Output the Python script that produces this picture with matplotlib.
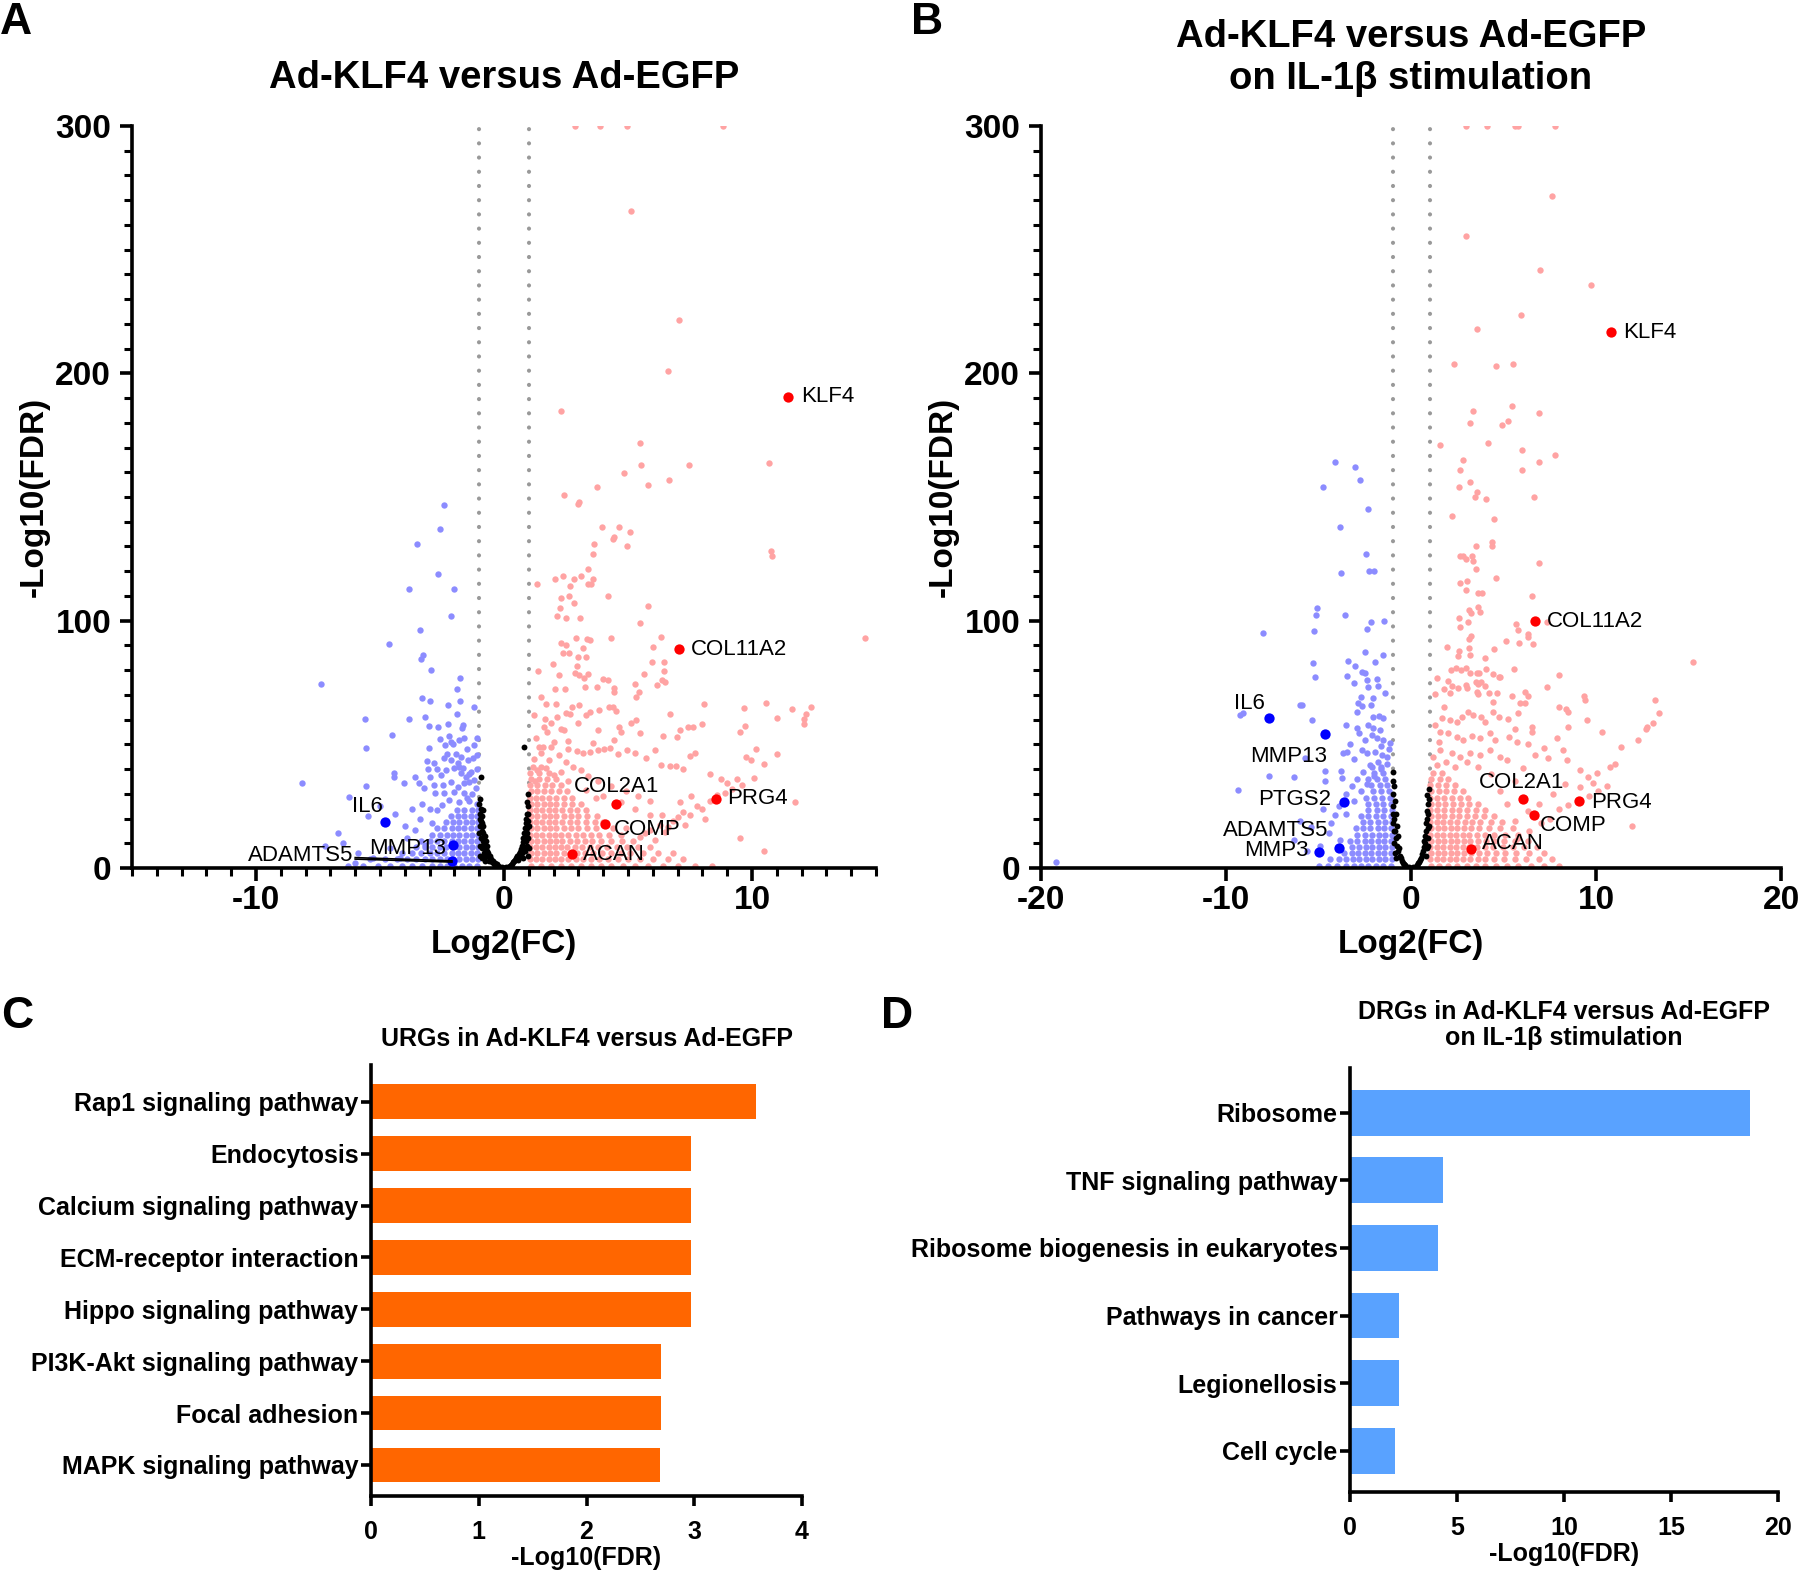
import numpy as np
import matplotlib.pyplot as plt

plt.rcParams['font.family'] = ['Liberation Sans', 'DejaVu Sans']
plt.rcParams['axes.unicode_minus'] = False

# ---------------- Panel A: Ad-KLF4 vs Ad-EGFP ----------------
# up-regulated genes (log2FC, -log10FDR), scattered part
a_up = [(5.13, 265.8), (7.07, 221.7), (6.63, 201), (2.30, 184.9), (5.50, 171.9), (5.54, 163), (7.44, 163),
        (10.67, 163.8), (4.85, 159.8), (5.82, 154.9), (6.67, 157), (3.76, 154), (2.43, 151), (3.03, 148),
        (3.0, 147), (3.96, 138), (4.65, 138), (5.09, 136), (4.45, 134), (4.4, 133), (3.64, 131), (4.97, 130),
        (3.6, 127), (10.75, 128), (10.8, 126), (1.33, 115), (2.06, 117), (2.38, 118), (2.83, 117), (3.1, 118),
        (3.4, 121), (3.4, 115), (3.5, 115), (3.6, 117), (2.67, 114), (2.3, 109), (2.63, 110), (4.2, 110),
        (2.27, 105), (2.83, 107), (2.14, 102), (2.5, 101), (3.07, 101), (5.82, 106), (5.5, 99), (6.35, 93.5),
        (14.55, 93), (2.91, 93), (3.36, 92.6), (3.48, 92.2), (4.32, 93), (2.3, 91), (2.5, 90), (2.38, 87),
        (2.63, 87), (3.19, 89), (6.0, 89.4), (1.98, 82.5), (2.95, 81.7), (3.0, 85.4), (3.3, 85.4), (5.98, 83.3),
        (6.47, 83.3), (1.37, 79.7), (2.22, 78), (2.87, 78.9), (3.03, 78), (3.4, 78.5), (5.66, 78.5), (6.47, 79.7),
        (4.0, 76.5), (4.2, 76), (6.39, 76), (6.5, 75.2), (2.06, 72.4), (2.47, 72.4), (3.23, 77), (3.27, 73.2),
        (3.76, 73.2), (4.45, 72.8), (4.45, 71.2), (5.3, 74.4), (6.18, 74), (5.34, 69.2), (5.46, 71.2), (1.7, 66.3),
        (2.1, 66.3), (2.75, 65), (3.03, 66), (3.48, 63), (3.84, 64), (4.24, 65), (4.4, 65), (4.53, 63.5),
        (8.08, 66.3), (10.55, 66.7), (11.6, 64.3), (12.17, 62.3), (12.37, 65), (12.1, 60.3), (12.1, 58.3),
        (6.71, 62.3), (9.66, 64.7), (11.0, 60.7), (1.66, 60.3), (2.14, 61), (2.5, 62.7), (2.67, 62.3), (2.3, 56.2),
        (2.43, 55.8), (3.0, 58.7), (3.31, 62), (3.8, 55.8), (4.65, 57), (4.73, 55), (5.13, 58.7), (5.34, 60),
        (5.5, 54.6), (6.43, 53.4), (6.99, 53), (7.11, 55.8), (7.4, 57), (7.64, 57), (8.0, 58.3), (9.5, 55),
        (9.7, 57.4), (1.74, 55), (1.41, 49), (1.58, 49), (1.9, 49), (2.02, 51), (2.59, 48), (2.95, 47.3),
        (3.19, 46.5), (3.48, 46.9), (3.8, 47.7), (4.04, 48), (4.28, 48.5), (4.45, 51.8), (4.6, 46), (4.97, 47.7),
        (5.3, 46.5), (5.74, 44.5), (6.1, 47.7), (6.35, 41.7), (6.7, 41.3), (6.95, 41.3), (7.2, 40), (7.5, 45.3),
        (7.7, 46.5), (8.3, 38), (8.73, 36), (9.0, 34.4), (9.38, 36), (9.74, 45), (9.94, 43.7), (10.15, 48),
        (11.0, 46), (10.5, 42), (11.75, 26.6), (9.53, 12.2), (10.47, 6.8), (7.08, 26.6), (6.38, 21.5),
        (7.55, 29), (6.6, 16.5), (5.7, 14), (6.1, 11.4), (7.5, 21.5), (8.0, 24), (8.9, 30.5), (9.2, 32),
        (8.3, 27), (7.8, 25), (7.2, 22.5), (6.8, 19), (6.3, 17.5), (5.9, 15.5), (5.5, 12.5), (9.6, 33.5),
        (10.1, 36.5), (8.6, 29.5), (7.0, 20.5), (6.5, 14.5), (7.3, 17.5), (8.1, 20), (1.2, 44), (1.5, 46.5),
        (1.8, 43.5), (2.2, 45.5), (2.5, 43), (2.8, 41), (3.1, 39.5), (3.4, 37), (3.8, 35), (4.3, 33), (4.9, 31),
        (5.4, 29), (5.9, 27), (4.0, 29), (4.7, 26.5), (5.3, 24), (5.9, 21.5), (3.3, 31.5), (3.7, 28.5),
        (1.3, 52.5), (1.6, 57), (1.2, 62), (1.9, 58.5), (1.5, 69), (2.6, 51.5), (3.6, 50.5), (1.35, 39.5),
        (1.7, 40.5), (2.0, 37.5), (2.6, 35), (1.25, 35), (2.3, 39)]
a_up_top = [2.87, 3.88, 4.97, 8.85]   # clipped at 300

# dense core of up-regulated genes: one y value per row, x values in that row
a_up_core_y = [1, 3.5, 6, 8.5, 11, 13.5, 16, 18.5, 21, 23.5, 26, 28.5, 31, 33.5, 36, 38.5, 41]
a_up_core_x = [
    [1.1, 1.5, 1.9, 2.3, 2.7, 3.1, 3.5, 3.9, 4.3, 4.8, 5.3, 5.8, 6.4, 7.0, 7.7, 8.4],
    [1.05, 1.3, 1.55, 1.8, 2.05, 2.3, 2.6, 2.9, 3.2, 3.5, 3.85, 4.2, 4.6, 5.0, 5.5, 6.0, 6.6, 7.2],
    [1.1, 1.35, 1.6, 1.85, 2.1, 2.4, 2.95, 3.25, 3.6, 3.95, 4.3, 4.7, 5.1, 5.6, 6.2, 6.8],
    [1.05, 1.3, 1.55, 1.8, 2.05, 2.3, 2.55, 2.85, 3.15, 3.45, 3.8, 4.15, 4.55, 4.95, 5.4, 5.9],
    [1.1, 1.35, 1.6, 1.85, 2.1, 2.35, 2.65, 2.95, 3.25, 3.55, 3.9, 4.3, 4.75, 5.2],
    [1.05, 1.3, 1.55, 1.8, 2.05, 2.3, 2.6, 2.9, 3.2, 3.5, 3.85, 4.25, 4.7],
    [1.1, 1.35, 1.6, 1.85, 2.1, 2.4, 2.7, 3.0, 3.35, 3.7, 4.4, 4.9],
    [1.05, 1.3, 1.55, 1.8, 2.05, 2.35, 2.65, 2.95, 3.3, 3.65, 4.0],
    [1.1, 1.35, 1.6, 1.85, 2.1, 2.4, 2.7, 3.0, 3.35, 3.75],
    [1.05, 1.3, 1.55, 1.8, 2.05, 2.35, 2.65, 2.95, 3.3],
    [1.1, 1.35, 1.6, 1.85, 2.1, 2.4, 2.75, 3.1],
    [1.05, 1.3, 1.55, 1.8, 2.1, 2.4, 2.75],
    [1.1, 1.35, 1.6, 1.9, 2.2, 2.55],
    [1.05, 1.35, 1.65, 1.95, 2.3],
    [1.1, 1.4, 1.75, 2.1],
    [1.05, 1.4, 1.8],
    [1.15, 1.5],
]

# down-regulated genes
a_down = [(-2.43, 146.8), (-2.59, 137), (-3.52, 131), (-2.67, 119), (-3.84, 112.9), (-2.02, 112.9),
          (-2.14, 102), (-3.4, 96.3), (-4.65, 90.6), (-3.27, 86.2), (-3.35, 84.5), (-2.95, 80), (-7.36, 74.4),
          (-1.78, 76.9), (-1.9, 72.4), (-1.78, 67.6), (-2.26, 65.9), (-1.21, 65.1), (-3.31, 68.8), (-2.99, 67.6),
          (-5.62, 60.3), (-3.84, 60.3), (-3.19, 61.1), (-4.53, 53.8), (-5.58, 48.5), (-8.16, 34.4), (-5.58, 33.2),
          (-4.45, 38.4), (-4.45, 36.8), (-4.04, 34.4), (-3.6, 36.8), (-1.9, 62.3), (-2.26, 58.3), (-2.67, 57),
          (-3.03, 57.4), (-1.66, 57.8), (-1.7, 56.6), (-2.22, 53.4), (-2.14, 51), (-2.38, 49.8), (-2.06, 50.2),
          (-1.82, 51.8), (-1.62, 52.6), (-1.09, 52.6), (-1.21, 49.8), (-1.25, 44.5), (-1.09, 40), (-1.33, 38.8),
          (-1.54, 36.8), (-1.74, 38.4), (-3.03, 48.5), (-2.59, 52.2), (-2.3, 46.1), (-1.94, 46.1), (-1.74, 44.9),
          (-1.46, 43.7), (-3.11, 43.3), (-2.83, 42.5), (-2.43, 44.5), (-2.14, 43.7), (-1.86, 42.5), (-3.07, 40),
          (-2.71, 40), (-2.55, 37.6), (-2.99, 36.8), (-2.34, 39.6), (-2.02, 40.5), (-1.82, 40.9), (-1.66, 40.5),
          (-3.44, 34.4), (-3.23, 32.4), (-2.83, 33.6), (-2.47, 33.6), (-2.14, 34.8), (-1.86, 32.8), (-1.62, 34.4),
          (-1.41, 34.8), (-1.13, 32.4), (-2.79, 30.3), (-2.43, 30.3), (-2.02, 30.7), (-1.62, 30.3), (-6.27, 28.7),
          (-6.7, 14), (-6.5, 10), (-5.9, 6), (-7.2, 9), (-5.5, 21), (-5.0, 25), (-4.4, 22), (-4.0, 17), (-3.9, 12),
          (-3.7, 24), (-3.4, 20), (-4.6, 8), (-5.3, 4), (-6.0, 2), (-4.2, 4), (-3.6, 15.5), (-3.3, 26), (-3.0, 24),
          (-2.9, 18), (-3.2, 9.5), (-2.5, 25.5), (-2.2, 27.5), (-1.8, 26.5), (-1.4, 27), (-1.1, 26), (-2.7, 23.5),
          (-1.3, 30), (-1.5, 28.5), (-1.2, 35.5), (-1.4, 38), (-1.1, 45.5), (-1.5, 48)]
a_down_core_y = [1, 3.5, 6, 8.5, 11, 13.5, 16, 18.5, 21, 23.5]
a_down_core_x = [
    [-1.1, -1.4, -1.7, -2.0, -2.3, -2.6, -2.9, -3.3, -3.7, -4.1, -4.6, -5.1, -5.7, -6.3],
    [-1.05, -1.3, -1.55, -1.8, -2.05, -2.3, -2.6, -2.9, -3.2, -3.55, -3.9, -4.3, -4.8, -5.4],
    [-1.1, -1.35, -1.6, -1.85, -2.1, -2.4, -2.7, -3.0, -3.35, -3.7, -4.1],
    [-1.05, -1.3, -1.55, -1.8, -2.35, -2.6, -2.9, -3.2, -3.55],
    [-1.1, -1.35, -1.6, -1.85, -2.1, -2.4, -2.7, -3.0, -3.35],
    [-1.05, -1.3, -1.55, -1.8, -2.05, -2.3, -2.6, -2.9],
    [-1.1, -1.35, -1.6, -1.85, -2.1, -2.4, -2.7],
    [-1.05, -1.3, -1.55, -1.8, -2.05, -2.35],
    [-1.1, -1.35, -1.6, -1.85, -2.15],
    [-1.05, -1.3, -1.6, -1.9],
]

# not significant genes
a_ns = [(-0.98, 22), (-0.96, 17), (-0.94, 24), (-0.93, 12), (-0.92, 19), (-0.9, 15), (-0.9, 8), (-0.88, 21),
        (-0.86, 11), (-0.85, 14), (-0.83, 17), (-0.82, 6), (-0.8, 10), (-0.78, 13), (-0.76, 8), (-0.74, 11),
        (-0.72, 5), (-0.7, 7), (-0.68, 9), (-0.65, 6), (-0.62, 4.5), (-0.6, 3), (-0.57, 5), (-0.54, 3.5),
        (-0.5, 2.5), (-0.46, 3), (-0.42, 1.8), (-0.38, 2.2), (-0.34, 1.2), (-0.3, 1.5), (-0.25, 0.8), (-0.2, 0.6),
        (-0.15, 0.4), (-0.1, 0.3), (-0.05, 0.2), (0.0, 0.1), (0.05, 0.2), (0.1, 0.3), (0.15, 0.5), (0.2, 0.6),
        (0.25, 1.0), (0.3, 1.3), (0.34, 1.8), (0.38, 2.3), (0.42, 2.8), (0.46, 3.3), (0.5, 4.0), (0.54, 4.8),
        (0.57, 3.2), (0.6, 5.5), (0.63, 6.5), (0.66, 4.5), (0.68, 7.5), (0.71, 9), (0.73, 6), (0.75, 10.5),
        (0.77, 12), (0.79, 8), (0.81, 14), (0.83, 11), (0.85, 16), (0.87, 18), (0.88, 13), (0.9, 20), (0.91, 9),
        (0.93, 22), (0.94, 16), (0.96, 25), (0.97, 19), (0.98, 12), (-0.93, 36.8), (-0.85, 23.5), (0.8, 49),
        (0.93, 26.7), (-0.97, 28), (-0.95, 5), (0.95, 5), (0.97, 30), (-0.97, 9), (-0.99, 14), (0.99, 8),
        (0.99, 17), (-0.95, 20), (0.92, 14), (-0.88, 4), (-0.78, 3), (0.86, 7), (0.78, 4), (0.98, 22),
        (-0.99, 26), (0.9, 11), (-0.9, 18)]

a_genes = ['KLF4', 'COL11A2', 'PRG4', 'COL2A1', 'COMP', 'ACAN', 'IL6', 'MMP13', 'ADAMTS5']
a_gene_x = [11.44, 7.05, 8.53, 4.53, 4.08, 2.75, -4.78, -2.04, -2.09]
a_gene_y = [190.5, 88.5, 28.0, 25.9, 17.8, 5.7, 18.6, 9.3, 2.8]

# ---------------- Panel B: on IL-1b stimulation ----------------
b_up = [(7.63, 271.8), (2.98, 255.7), (6.98, 241.9), (9.74, 235.8), (5.95, 223.7), (3.57, 218), (2.33, 203.9),
        (4.6, 203.1), (5.52, 203.9), (3.35, 184.9), (5.47, 186.9), (6.93, 184.1), (3.19, 180), (4.92, 179.2),
        (5.25, 180.8), (1.57, 171.1), (4.17, 171.9), (6.0, 169), (7.79, 167), (2.81, 165), (2.65, 161),
        (6.93, 164.2), (6.0, 161), (3.19, 156), (2.6, 154), (3.57, 152), (3.46, 150), (4.06, 149), (6.66, 150),
        (2.22, 142.4), (4.49, 141.2), (4.38, 132), (4.38, 130), (3.52, 130), (2.65, 126), (2.81, 126),
        (2.98, 125), (3.3, 126), (3.35, 124), (3.52, 121), (6.93, 123.4), (4.6, 117.3), (2.65, 115.3),
        (3.03, 116), (2.98, 112.5), (3.63, 111), (3.84, 111), (6.55, 110), (3.14, 104.4), (3.25, 103),
        (3.63, 105.6), (3.73, 103.6), (2.6, 101), (3.08, 99.5), (5.68, 98.7), (5.79, 96.3), (6.33, 94.7),
        (6.33, 93.4), (6.6, 90.6), (7.36, 99.5), (2.65, 97.5), (3.25, 93.9), (3.14, 92.6), (5.14, 91.8),
        (5.84, 91), (1.95, 89.4), (2.6, 87.8), (2.54, 85.8), (3.14, 89), (3.19, 86.2), (4.0, 85), (4.49, 88.6),
        (15.26, 83.3), (2.16, 80), (2.43, 80.9), (2.71, 80), (2.98, 80.9), (3.19, 78.9), (3.57, 78.9),
        (3.68, 78.9), (4.06, 80.5), (4.44, 78.5), (4.76, 77.3), (4.82, 77.3), (5.57, 80.5), (8.0, 78),
        (2.0, 75.6), (2.22, 73.6), (2.98, 74), (3.52, 75.2), (3.63, 74.4), (3.79, 75.2), (4.0, 73.6),
        (7.36, 73.2), (1.3, 70.4), (1.79, 72.4), (2.11, 70.8), (2.54, 72.8), (3.03, 72.8), (3.57, 71.2),
        (3.63, 70.4), (4.22, 70.8), (4.44, 67.2), (4.65, 70.8), (5.47, 69.6), (6.17, 71.2), (6.33, 69.6),
        (5.9, 66.7), (6.17, 66.7), (9.36, 69.6), (9.42, 68), (13.2, 68), (13.4, 62.7), (13.1, 58.7),
        (12.77, 57), (12.72, 56.2), (12.28, 51.8), (11.36, 49), (10.34, 55), (9.52, 60), (8.5, 63), (8.4, 64.3),
        (8.0, 65), (8.5, 57), (1.68, 60.7), (2.11, 59.9), (2.49, 59), (2.76, 61), (3.08, 63), (3.35, 61.9),
        (3.79, 61), (4.0, 59), (4.44, 63), (4.76, 61), (5.25, 60.3), (5.79, 62.7), (6.55, 57), (6.55, 55),
        (5.63, 56.2), (1.57, 55), (2.0, 54.6), (2.49, 53), (2.81, 51.8), (3.3, 53.4), (3.73, 52.6), (4.27, 54.6),
        (4.55, 51.8), (5.3, 53), (5.74, 51), (6.33, 50.2), (7.9, 52.6), (7.2, 48.5), (7.4, 44.5), (8.23, 47.7),
        (8.44, 43.7), (1.57, 47.7), (2.22, 46.5), (2.65, 44.9), (3.19, 46.5), (3.73, 45.7), (4.27, 47.7),
        (4.82, 44.9), (5.2, 43.7), (6.06, 40.5), (6.71, 45.7), (9.15, 39.6), (9.58, 36.8), (10.07, 38.4),
        (10.77, 40.9), (11.04, 42.1), (9.85, 34.4), (9.15, 32.8), (8.0, 24), (8.5, 25.5), (9.6, 29), (10.1, 31),
        (10.6, 33), (7.5, 20), (7.0, 18), (6.4, 15), (5.8, 12), (11.96, 17), (7.7, 30), (8.3, 34), (6.9, 26),
        (6.3, 23), (5.6, 19), (5.2, 26), (4.8, 31), (5.6, 35), (4.3, 38), (3.6, 41), (3.0, 43), (2.4, 41),
        (1.9, 43), (1.4, 41.5), (1.2, 45), (1.5, 51), (1.3, 58), (1.8, 65), (1.4, 77)]
b_up_top = [2.98, 4.11, 5.63, 5.79, 7.79]
b_up_core_y = [1, 3.5, 6, 8.5, 11, 13.5, 16, 18.5, 21, 23.5, 26, 28.5, 31, 33.5, 36, 38.5]
b_up_core_x = [
    [1.1, 1.5, 2.0, 2.5, 3.0, 3.5, 4.0, 4.6, 5.2, 5.8, 6.5, 7.2, 8.0],
    [1.05, 1.4, 1.75, 2.1, 2.45, 2.8, 3.2, 3.6, 4.0, 4.5, 5.0, 5.6, 6.2, 6.9, 7.6],
    [1.1, 1.45, 1.8, 2.15, 2.5, 2.85, 3.25, 3.65, 4.1, 4.6, 5.1, 5.7, 6.4, 7.2],
    [1.05, 1.4, 1.75, 2.1, 2.45, 2.8, 3.15, 3.55, 4.0, 4.45, 4.95, 5.5, 6.1, 6.8],
    [1.1, 1.45, 1.8, 2.15, 2.5, 2.85, 3.2, 3.6, 4.05, 4.5, 5.0, 5.6, 6.3],
    [1.05, 1.4, 1.75, 2.1, 2.45, 2.8, 3.15, 3.55, 4.0, 4.5, 5.1, 5.8],
    [1.1, 1.45, 1.8, 2.15, 2.5, 2.85, 3.25, 3.7, 4.2, 4.8, 5.5],
    [1.05, 1.4, 1.75, 2.1, 2.5, 2.9, 3.3, 3.75, 4.3, 4.9],
    [1.1, 1.45, 1.8, 2.2, 2.6, 3.0, 3.45, 3.95, 4.5],
    [1.05, 1.4, 1.8, 2.2, 2.6, 3.05, 3.5, 4.0],
    [1.1, 1.45, 1.85, 2.25, 2.7, 3.15, 3.6],
    [1.05, 1.4, 1.8, 2.2, 2.65, 3.1],
    [1.1, 1.5, 1.9, 2.35, 2.8],
    [1.05, 1.45, 1.9, 2.4],
    [1.1, 1.55, 2.0],
    [1.2, 1.7],
]

b_down = [(-4.11, 164.2), (-3.03, 162.2), (-2.76, 157), (-4.76, 154.1), (-2.33, 145.2), (-3.84, 138),
          (-2.44, 127), (-2.27, 120), (-2.0, 120), (-3.79, 119.3), (-5.09, 105.2), (-5.14, 102.3), (-3.57, 102.3),
          (-2.16, 99.5), (-1.46, 99.9), (-2.38, 96.7), (-8.0, 95), (-5.25, 95.9), (-2.49, 87.4), (-1.52, 86.2),
          (-1.95, 83.3), (-3.41, 83.7), (-3.03, 81.7), (-3.46, 77.7), (-2.65, 79.3), (-2.49, 78.9), (-5.2, 77.3),
          (-2.38, 76), (-2.33, 73.2), (-1.84, 76.5), (-1.79, 73.6), (-1.41, 70.8), (-3.08, 74.8), (-2.71, 69.2),
          (-2.06, 68.8), (-2.87, 66.7), (-2.65, 65.5), (-2.16, 65.9), (-5.9, 65.9), (-9.09, 62.7), (-2.92, 63.1),
          (-2.06, 61.1), (-1.73, 61.5), (-1.52, 60.7), (-5.36, 59.9), (-3.52, 57.8), (-2.92, 56.6), (-2.33, 57.8),
          (-2.06, 56.6), (-1.68, 55.8), (-2.81, 54.6), (-2.49, 51.8), (-2.11, 53.8), (-1.84, 52.6), (-1.52, 51.8),
          (-1.14, 50.6), (-3.68, 46.5), (-3.46, 46.9), (-2.65, 47.7), (-2.38, 46.5), (-1.95, 46.9), (-1.57, 45.7),
          (-1.3, 44.9), (-5.74, 44.5), (-4.65, 39.2), (-4.65, 35.2), (-3.79, 39.2), (-3.73, 36.4), (-7.68, 37.2),
          (-6.33, 36.8), (-9.36, 31.6), (-9.25, 62), (-6.0, 66), (-5.31, 82.8), (-6.3, 11.4), (-6.0, 19),
          (-5.4, 16.5), (-4.75, 24), (-4.44, 14), (-4.13, 21.5), (-3.82, 11.4), (-19.2, 2.5), (-3.5, 30),
          (-3.2, 33), (-2.9, 36), (-2.6, 39), (-2.2, 41.5), (-1.8, 43), (-3.1, 27), (-2.7, 31), (-2.4, 34),
          (-2.0, 37), (-1.6, 40), (-1.3, 42), (-3.9, 25), (-3.5, 22), (-4.3, 18), (-4.9, 9), (-5.6, 7),
          (-1.2, 48), (-1.6, 49.5), (-3.1, 44), (-3.3, 50)]
b_down_core_y = [1, 3.5, 6, 8.5, 11, 13.5, 16, 18.5, 21, 23.5, 26, 28.5, 31, 33.5, 36, 38.5, 41]
b_down_core_x = [
    [-1.1, -1.5, -1.9, -2.3, -2.7, -3.1, -3.5, -4.0, -4.5, -5.0],
    [-1.05, -1.4, -1.75, -2.1, -2.45, -2.8, -3.15, -3.5, -3.9, -4.4],
    [-1.1, -1.45, -1.8, -2.15, -2.5, -2.85, -3.2, -3.6],
    [-1.05, -1.4, -1.75, -2.1, -2.45, -2.8, -3.2],
    [-1.1, -1.45, -1.8, -2.15, -2.5, -2.9, -3.3],
    [-1.05, -1.4, -1.75, -2.1, -2.5, -2.9],
    [-1.1, -1.45, -1.8, -2.2, -2.6, -3.0],
    [-1.05, -1.4, -1.8, -2.2, -2.6],
    [-1.1, -1.5, -1.9, -2.3, -2.7],
    [-1.05, -1.45, -1.85, -2.3],
    [-1.1, -1.5, -1.9, -2.35],
    [-1.15, -1.55, -2.0, -2.45],
    [-1.2, -1.6, -2.05],
    [-1.3, -1.7, -2.15],
    [-1.4, -1.85, -2.3],
    [-1.5, -2.0],
    [-1.6, -2.1],
]

b_ns = [(-0.98, 30), (-0.96, 38.7), (-0.95, 25), (-0.93, 33), (-0.9, 20), (-0.88, 27), (-0.85, 15), (-0.83, 22),
        (-0.8, 12), (-0.78, 17), (-0.75, 9), (-0.72, 13), (-0.7, 7), (-0.65, 8), (-0.6, 5), (-0.55, 4),
        (-0.5, 3), (-0.45, 2.2), (-0.4, 1.8), (-0.35, 1.2), (-0.3, 0.9), (-0.2, 0.5), (-0.1, 0.3), (0.0, 0.1),
        (0.1, 0.3), (0.2, 0.5), (0.3, 1.0), (0.35, 1.4), (0.4, 2.0), (0.45, 2.6), (0.5, 3.4), (0.55, 4.2),
        (0.6, 5.5), (0.65, 7.0), (0.7, 8.5), (0.72, 11), (0.75, 10), (0.78, 13), (0.8, 15), (0.82, 18),
        (0.85, 20), (0.87, 29.6), (0.88, 23), (0.9, 26), (0.93, 22), (0.95, 28), (0.97, 32), (-0.97, 18),
        (-0.92, 10), (-0.87, 6), (0.92, 12), (0.96, 17), (0.84, 8), (-0.99, 35), (-0.94, 15), (0.94, 9),
        (-0.8, 4), (0.8, 5), (-0.96, 22), (0.9, 16)]

b_genes = ['KLF4', 'COL11A2', 'PRG4', 'COL2A1', 'COMP', 'ACAN', 'IL6', 'MMP13', 'PTGS2', 'ADAMTS5', 'MMP3']
b_gene_x = [10.8, 6.7, 9.1, 6.05, 6.65, 3.25, -7.65, -4.65, -3.6, -3.9, -4.95]
b_gene_y = [216.7, 100, 27, 27.8, 21.3, 7.8, 60.5, 54, 26.7, 8.0, 6.5]

# ---------------- Panels C and D: KEGG enrichment ----------------
c_terms = ['Rap1 signaling pathway', 'Endocytosis', 'Calcium signaling pathway', 'ECM-receptor interaction',
           'Hippo signaling pathway', 'PI3K-Akt signaling pathway', 'Focal adhesion', 'MAPK signaling pathway']
c_vals = [3.57, 2.97, 2.97, 2.97, 2.97, 2.69, 2.69, 2.68]
d_terms = ['Ribosome', 'TNF signaling pathway', 'Ribosome biogenesis in eukaryotes', 'Pathways in cancer',
           'Legionellosis', 'Cell cycle']
d_vals = [18.7, 4.34, 4.13, 2.3, 2.3, 2.09]

PINK = '#ffa3a3'
LBLUE = '#8c8cff'
W = 1800.0
H = 1577.0

fig = plt.figure(figsize=(18, 15.77), dpi=100)


def axes_px(left, top, right, bottom):
    return fig.add_axes([left / W, 1 - bottom / H, (right - left) / W, (bottom - top) / H])


def core_points(ys, xs_rows):
    px, py = [], []
    for y, row in zip(ys, xs_rows):
        for x in row:
            px.append(x)
            py.append(y)
    return px, py


def volcano(ax, up, up_core, up_top, down, down_core, ns, xlim, xmajor, xminor):
    for xv in (-1, 1):
        ax.axvline(xv, color='#999999', lw=3.0, linestyle=(0, (0.01, 3.4)), dash_capstyle='round', zorder=1)
    ux, uy = zip(*up)
    cx, cy = core_points(*up_core)
    ax.scatter(list(ux) + cx, list(uy) + cy, s=21, color=PINK, linewidths=0, zorder=2)
    ax.scatter(up_top, [300] * len(up_top), s=21, color=PINK, linewidths=0, zorder=2)
    dx, dy = zip(*down)
    cx, cy = core_points(*down_core)
    ax.scatter(list(dx) + cx, list(dy) + cy, s=21, color=LBLUE, linewidths=0, zorder=2)
    nx, ny = zip(*ns)
    ax.scatter(nx, ny, s=18, color='black', linewidths=0, zorder=3)

    ax.set_xlim(*xlim)
    ax.set_ylim(0, 300)
    for s in ['top', 'right']:
        ax.spines[s].set_visible(False)
    for s in ['left', 'bottom']:
        ax.spines[s].set_linewidth(2.6)
    ax.set_xticks(xmajor)
    ax.set_xticks(xminor, minor=True)
    ax.set_yticks([0, 100, 200, 300])
    ax.set_yticks(np.arange(0, 301, 10), minor=True)
    ax.tick_params(which='major', length=9, width=2.6, labelsize=24, pad=6)
    ax.tick_params(axis='x', which='major', pad=3)
    ax.tick_params(which='minor', length=6, width=2.2)
    for lab in ax.get_xticklabels() + ax.get_yticklabels():
        lab.set_fontweight('bold')


def mark(ax, names, xs, ys, up_names):
    for n, x, y in zip(names, xs, ys):
        c = '#ff0000' if n in up_names else '#0000ff'
        ax.scatter([x], [y], s=55, color=c, linewidths=0, zorder=5)


# Panel A
axA = axes_px(132, 126, 876, 868)
volcano(axA, a_up, (a_up_core_y, a_up_core_x), a_up_top, a_down, (a_down_core_y, a_down_core_x), a_ns,
        (-15, 15), [-10, 0, 10], np.arange(-15, 16, 1))
up_a = {'KLF4', 'COL11A2', 'PRG4', 'COL2A1', 'COMP', 'ACAN'}
mark(axA, a_genes, a_gene_x, a_gene_y, up_a)
gkw = dict(fontsize=16, zorder=6)
axA.text(12.0, 190.5, 'KLF4', ha='left', va='center', **gkw)
axA.text(7.52, 88.5, 'COL11A2', ha='left', va='center', **gkw)
axA.text(9.0, 28, 'PRG4', ha='left', va='center', **gkw)
axA.text(4.55, 33, 'COL2A1', ha='center', va='center', **gkw)
axA.text(4.45, 15.5, 'COMP', ha='left', va='center', **gkw)
axA.text(3.2, 5.4, 'ACAN', ha='left', va='center', **gkw)
axA.text(-5.5, 25, 'IL6', ha='center', va='center', **gkw)
axA.text(-3.9, 8.0, 'MMP13', ha='center', va='center', **gkw)
axA.text(-8.2, 5.0, 'ADAMTS5', ha='center', va='center', **gkw)
axA.plot([-6.0, -2.1], [4.2, 2.9], color='black', lw=1.2, zorder=6)
axA.plot([-6.0, -2.1], [3.6, 2.4], color='black', lw=1.2, zorder=6)

# Panel B
axB = axes_px(1041, 126, 1781, 868)
volcano(axB, b_up, (b_up_core_y, b_up_core_x), b_up_top, b_down, (b_down_core_y, b_down_core_x), b_ns,
        (-20, 20), [-20, -10, 0, 10, 20], [])
mark(axB, b_genes, b_gene_x, b_gene_y, up_a)
axB.text(11.45, 216.5, 'KLF4', ha='left', va='center', **gkw)
axB.text(7.36, 99.5, 'COL11A2', ha='left', va='center', **gkw)
axB.text(9.75, 26.3, 'PRG4', ha='left', va='center', **gkw)
axB.text(5.96, 34.7, 'COL2A1', ha='center', va='center', **gkw)
axB.text(8.76, 17, 'COMP', ha='center', va='center', **gkw)
axB.text(5.5, 10.1, 'ACAN', ha='center', va='center', **gkw)
axB.text(-8.73, 66.6, 'IL6', ha='center', va='center', **gkw)
axB.text(-6.6, 45, 'MMP13', ha='center', va='center', **gkw)
axB.text(-6.3, 27.8, 'PTGS2', ha='center', va='center', **gkw)
axB.text(-7.3, 15.2, 'ADAMTS5', ha='center', va='center', **gkw)
axB.text(-7.3, 7.1, 'MMP3', ha='center', va='center', **gkw)

# volcano titles / labels
fig.text(504 / W, 1 - 78 / H, 'Ad-KLF4 versus Ad-EGFP', ha='center', va='center', fontsize=27.5, fontweight='bold')
fig.text(1411 / W, 1 - 58 / H, 'Ad-KLF4 versus Ad-EGFP\non IL-1β stimulation', ha='center', va='center',
         fontsize=27.5, fontweight='bold', linespacing=1.2)
for xc in [504, 1411]:
    fig.text(xc / W, 1 - 944 / H, 'Log2(FC)', ha='center', va='center', fontsize=24, fontweight='bold')
for xc in [34, 943]:
    fig.text(xc / W, 1 - 497 / H, '-Log10(FDR)', ha='center', va='center', rotation=90, fontsize=24,
             fontweight='bold')

# Bar panels
BFS = 18


def bars(ax, terms, vals, color, xmax, xticks, ylim, height):
    pos = np.arange(len(terms))
    ax.barh(pos, vals, height=height, color=color, edgecolor='none')
    ax.set_ylim(*ylim)
    ax.set_xlim(0, xmax)
    ax.set_yticks(pos)
    ax.set_yticklabels(terms, fontweight='bold', fontsize=BFS)
    ax.set_xticks(xticks)
    ax.set_xticklabels([str(t) for t in xticks], fontweight='bold', fontsize=BFS)
    for s in ['top', 'right']:
        ax.spines[s].set_visible(False)
    for s in ['left', 'bottom']:
        ax.spines[s].set_linewidth(2.6)
    ax.tick_params(axis='y', length=7, width=2.6, pad=2)
    ax.tick_params(axis='x', length=7, width=2.6, pad=10)
    ax.set_xlabel('-Log10(FDR)', fontweight='bold', fontsize=BFS, labelpad=2)


axC = axes_px(371, 1065, 802, 1496)
bars(axC, c_terms, c_vals, '#ff6600', 4, [0, 1, 2, 3, 4], (7.6, -0.71), 0.67)
axD = axes_px(1350, 1068, 1778, 1492)
bars(axD, d_terms, d_vals, '#59a2ff', 20, [0, 5, 10, 15, 20], (5.61, -0.66), 0.68)

fig.text(587 / W, 1 - 1039 / H, 'URGs in Ad-KLF4 versus Ad-EGFP', ha='center', va='center',
         fontweight='bold', fontsize=BFS)
fig.text(1564 / W, 1 - 1025 / H, 'DRGs in Ad-KLF4 versus Ad-EGFP\non IL-1β stimulation', ha='center',
         va='center', fontweight='bold', fontsize=BFS, linespacing=1.1)

# panel letters
for letter, x, y in [('A', 16, 22), ('B', 927, 22), ('C', 17, 1017), ('D', 897, 1017)]:
    fig.text(x / W, 1 - y / H, letter, ha='center', va='center', fontsize=32, fontweight='bold')

fig.savefig('out.png', dpi=100)
